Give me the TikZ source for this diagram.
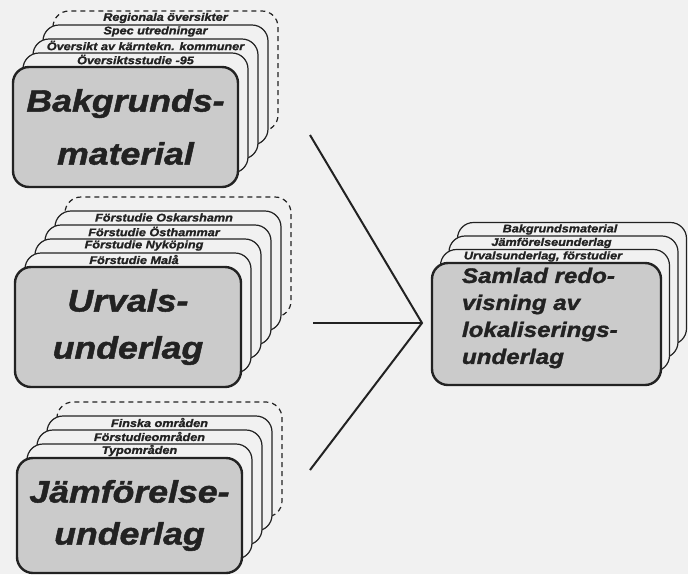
\documentclass[tikz,border=0pt]{standalone}
\usepackage{fontspec}
\newfontfamily\diafont[FakeStretch=1.15, BoldItalicFeatures={FakeBold=1.5}]{Liberation Sans}
\usepackage{tikz}
\usetikzlibrary{positioning}
\usepackage{xcolor}
\definecolor{paper}{HTML}{F1F1F1}
\definecolor{ink}{HTML}{222222}
\definecolor{boxgray}{HTML}{CBCBCB}

\begin{document}
\begin{tikzpicture}[x=1pt, y=-1pt,
    card/.style={draw=ink, fill=paper, line width=1.2pt, rounded corners=16pt},
    lastcard/.style={card, dash pattern=on 5pt off 4pt},
    cardlabel/.style={font=\diafont\bfseries\itshape\fontsize{11}{12}\selectfont, text=ink, inner sep=0pt},
    mainbox/.style={draw=ink, fill=boxgray, line width=2.4pt, rounded corners=16pt, inner sep=0pt, text=ink, align=center},
    link/.style={draw=ink, line width=2pt}]
\fill[paper] (0,0) rectangle (688,574);
\useasboundingbox (0,0) rectangle (688,574);
% Bakgrundsmaterial
\draw[lastcard] (53,11) rectangle ++(225,120);
\node[cardlabel] at (165.5,18) {Regionala översikter};
\foreach \k/\lab in {3/Spec utredningar, 2/Översikt av kärntekn. kommuner, 1/Översiktsstudie -95} {
  \draw[card] (13+10*\k, 67-14*\k) rectangle ++(225,120);
  \node[cardlabel] at (125.5+10*\k, 73.5-14*\k) {\lab};
}
\node[mainbox, minimum width=225pt, minimum height=120pt, font=\diafont\bfseries\itshape\fontsize{31}{53}\selectfont] (bakgrund) at (125.5,127) {Bakgrunds-\\material};
% Urvalsunderlag
\draw[lastcard] (65,197) rectangle ++(226,120);
\foreach \k/\lab in {4/Förstudie Oskarshamn, 3/Förstudie Östhammar, 2/Förstudie Nyköping, 1/Förstudie Malå} {
  \draw[card] (15+10*\k, 267-14*\k) rectangle ++(226,120);
  \node[cardlabel] at (124+10*\k, 273.5-14*\k) {\lab};
}
\node[mainbox, minimum width=226pt, minimum height=120pt, font=\diafont\bfseries\itshape\fontsize{31}{47}\selectfont] (urval) at (128,327) {Urvals-\\underlag};
% Jamforelseunderlag
\draw[lastcard] (57,402) rectangle ++(225,115);
\foreach \k/\lab in {3/Finska områden, 2/Förstudieområden, 1/Typområden} {
  \draw[card] (17+10*\k, 458-14*\k) rectangle ++(225,115);
  \node[cardlabel] at (129.5+10*\k, 464.5-14*\k) {\lab};
}
\node[mainbox, minimum width=225pt, minimum height=115pt, font=\diafont\bfseries\itshape\fontsize{31}{42}\selectfont] (jamfor) at (129.5,515.5) {Jämförelse-\\underlag};
% Samlad redovisning
\foreach \k/\lab in {3/Bakgrundsmaterial, 2/Jämförelseunderlag, 1/{Urvalsunderlag, förstudier}} {
  \draw[card] (432+8.5*\k, 263-13.5*\k) rectangle ++(229,122);
  \node[cardlabel] at (534.5+8.5*\k, 270-13.5*\k) {\lab};
}
\node[mainbox, minimum width=229pt, minimum height=122pt] (samlad) at (546.5,324) {};
\node[right=31pt of samlad.west, yshift=6pt, inner sep=0pt, align=left, text=ink,
  font=\diafont\bfseries\itshape\fontsize{21}{27}\selectfont] (samtext) {Samlad redo-\\visning av\\lokaliserings-\\underlag};
% connectors
\coordinate (apex) at (422,323);
\coordinate (fromBak) at (310,135);
\coordinate (fromUrv) at (313,323);
\coordinate (fromJmf) at (310,470);
\draw[link] (fromBak) -- (apex) -- (fromJmf);
\draw[link] (fromUrv) -- (apex);
\end{tikzpicture}
\end{document}
